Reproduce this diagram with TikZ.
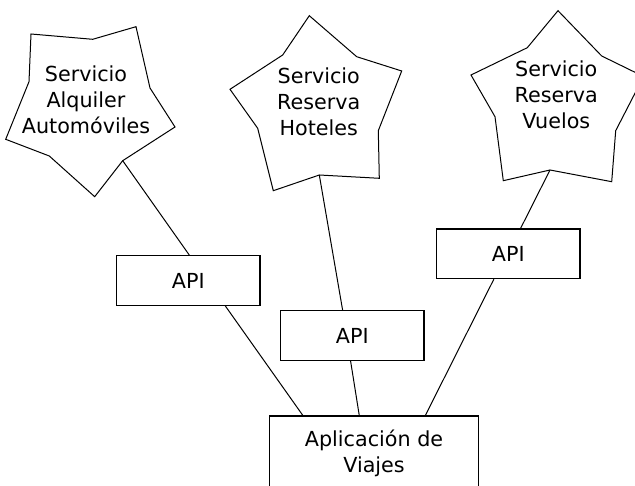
\documentclass[tikz,border=0pt]{standalone}
\usepackage{fontspec}
\setmainfont{DejaVu Sans}
\usetikzlibrary{calc}
\tikzset{
  lbl/.style={font=\fontsize{20.7}{26}\selectfont, align=center, inner sep=0pt},
  starline/.style={draw=black, line width=1pt, line join=miter},
  apibox/.style={draw=black, line width=1.2pt, fill=white, minimum width=143.3pt, minimum height=49.6pt, inner sep=0pt, font=\fontsize{20.7}{26}\selectfont},
  appbox/.style={draw=black, line width=1.2pt, minimum width=209.4pt, minimum height=75.6pt, inner sep=0pt, align=center, font=\fontsize{20.7}{26}\selectfont},
  link/.style={draw=black, line width=1pt}
}
\begin{document}
\begin{tikzpicture}[x=1pt, y=-1pt]
\path[use as bounding box, fill=white] (0,0) rectangle (635,486);

% stars
\draw[starline] (31,34) -- (92.7,39.3) -- (136,26.7) -- (150,88) -- (175,127)
  -- (122.7,160.7) coordinate (s1b) -- (94.7,196.7) -- (49.3,156) -- (5.7,139.3) -- (29,81.7) -- cycle;
\draw[starline] (309.3,15.7) -- (356.7,56.7) -- (401.7,71) -- (378.3,130.7) -- (379.3,178.3)
  -- (319.3,175) coordinate (s2b) -- (273.3,190.7) -- (257.7,128.3) -- (230,89.3) -- (282.7,55) -- cycle;
\draw[starline] (558,10.7) -- (601.7,56) -- (643.6,76.5) -- (615.7,130.7) -- (611.7,181.7)
  -- (550,170) coordinate (s3b) -- (503.3,180.7) -- (495,116.7) -- (471,75) -- (527.3,47.7) -- cycle;

\node[lbl] (t1) at (86,100) {Servicio\\Alquiler\\Automóviles};
\node[lbl] (t2) at (318.8,102.2) {Servicio\\Reserva\\Hoteles};
\node[lbl] (t3) at (556.3,95) {Servicio\\Reserva\\Vuelos};

% API boxes
\node[apibox] (api1) at (188.3,280.5) {API};
\node[apibox] (api2) at (352.3,335.5) {API};
\node[apibox] (api3) at (508.3,253.8) {API};

% application box
\node[appbox] (app) at (374,453.8) {Aplicación de\\Viajes};

% connectors
\draw[link] (s1b) -- ($(api1.north west)!0.507!(api1.north east)$);
\draw[link] (s2b) -- ($(api2.north west)!0.433!(api2.north east)$);
\draw[link] (s3b) -- ($(api3.north west)!0.585!(api3.north east)$);
\draw[link] ($(api1.south west)!0.756!(api1.south east)$) -- ($(app.north west)!0.162!(app.north east)$);
\draw[link] ($(api2.south west)!0.488!(api2.south east)$) -- ($(app.north west)!0.430!(app.north east)$);
\draw[link] ($(api3.south west)!0.40!(api3.south east)$) -- ($(app.north west)!0.744!(app.north east)$);
\end{tikzpicture}
\end{document}
